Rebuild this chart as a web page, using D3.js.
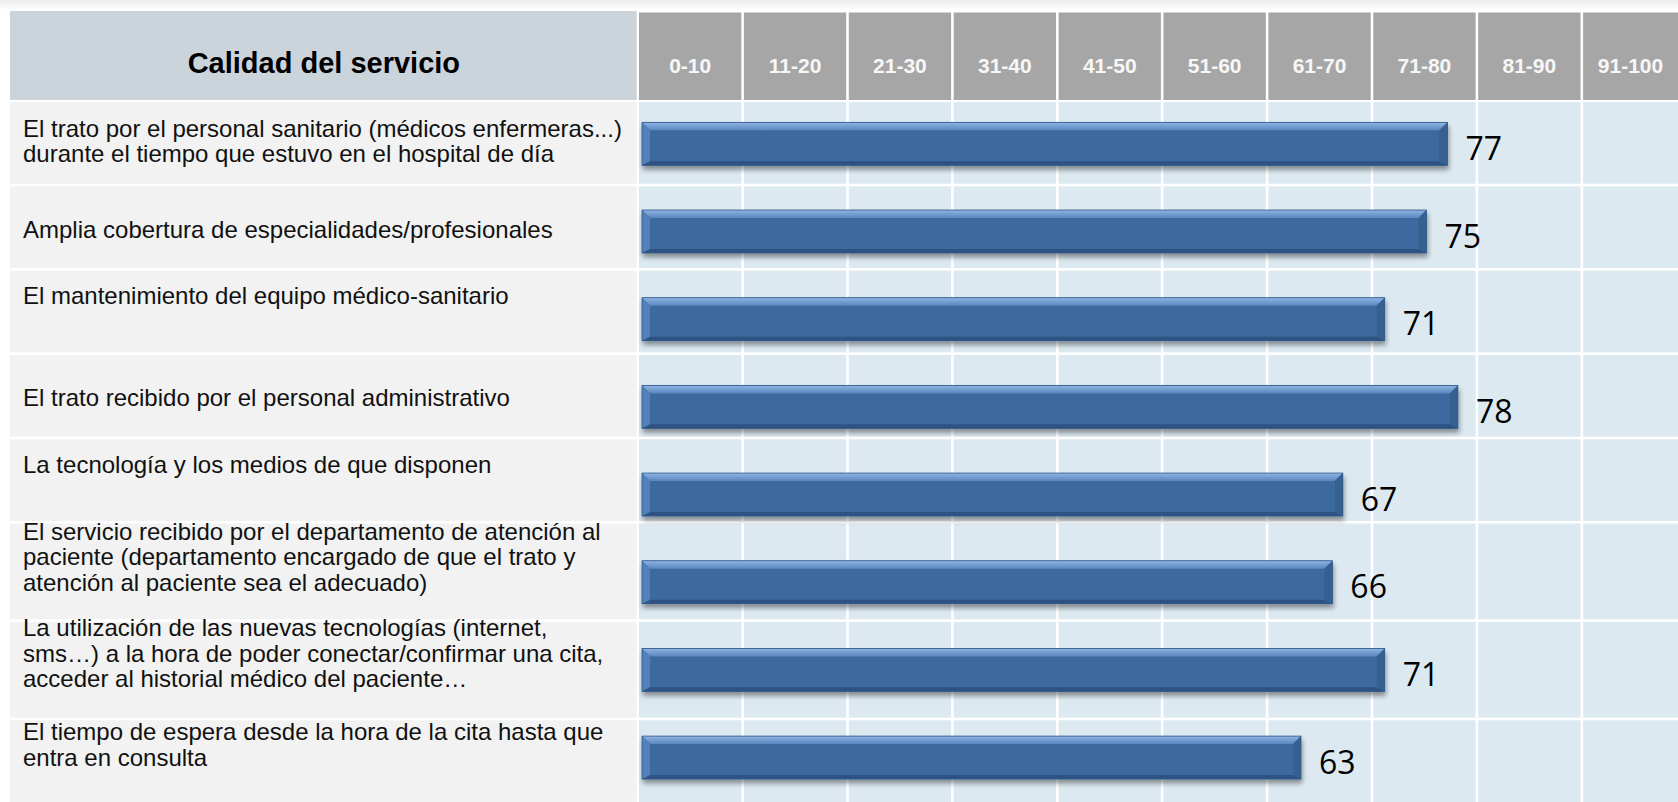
<!DOCTYPE html>
<html>
<head>
<meta charset="utf-8">
<script src="https://cdn.jsdelivr.net/npm/d3@7"></script>
<style>
  html, body { margin: 0; padding: 0; background: #ffffff; }
  svg { display: block; }
</style>
</head>
<body>
<svg id="chart" width="1678" height="802"></svg>
<script>
// ---------------- DATA ----------------
const headerTitle = "Calidad del servicio";
const rangeLabels = ["0-10", "11-20", "21-30", "31-40", "41-50", "51-60", "61-70", "71-80", "81-90", "91-100"];
const categories = [
  "El trato por el personal sanitario (médicos enfermeras...)\ndurante el tiempo que estuvo en el hospital de día",
  "Amplia cobertura de especialidades/profesionales",
  "El mantenimiento del equipo médico-sanitario",
  "El trato recibido por el personal administrativo",
  "La tecnología y los medios de que disponen",
  "El servicio recibido por el departamento de atención al\npaciente (departamento encargado de que el trato y\natención al paciente sea el adecuado)",
  "La utilización de las nuevas tecnologías (internet,\nsms…) a la hora de poder conectar/confirmar una cita,\nacceder al historial médico del paciente…",
  "El tiempo de espera desde la hora de la cita hasta que\nentra en consulta"
];
const values = [77, 75, 71, 78, 67, 66, 71, 63];

// ---------------- LAYOUT ----------------
const W = 1678, H = 802;
const labelShift = [0.5, 5, -13.5, 4, -13.8, -12.5, -14.5, -14.5]; // vertical nudge of label blocks
const svg = d3.select("#chart");
const defs = svg.append("defs");

const topGrad = defs.append("linearGradient").attr("id", "topband").attr("x1", 0).attr("y1", 0).attr("x2", 0).attr("y2", 1);
topGrad.append("stop").attr("offset", "0%").attr("stop-color", "#ebebeb");
topGrad.append("stop").attr("offset", "100%").attr("stop-color", "#ffffff");

const bevGrad = defs.append("linearGradient").attr("id", "bevtop").attr("x1", 0).attr("y1", 0).attr("x2", 0).attr("y2", 1);
bevGrad.append("stop").attr("offset", "0%").attr("stop-color", "#8fb4e3");
bevGrad.append("stop").attr("offset", "100%").attr("stop-color", "#5a87bf");

const flt = defs.append("filter").attr("id", "shadow").attr("x", "-5%").attr("y", "-30%").attr("width", "110%").attr("height", "170%");
flt.append("feGaussianBlur").attr("in", "SourceAlpha").attr("stdDeviation", 2.5).attr("result", "b");
flt.append("feOffset").attr("in", "b").attr("dx", 1).attr("dy", 4).attr("result", "o");
flt.append("feComponentTransfer").attr("in", "o").attr("result", "s")
  .append("feFuncA").attr("type", "linear").attr("slope", 0.4);
const fm = flt.append("feMerge");
fm.append("feMergeNode").attr("in", "s");
fm.append("feMergeNode").attr("in", "SourceGraphic");

svg.append("rect").attr("x", 0).attr("y", 0).attr("width", W).attr("height", 10).attr("fill", "url(#topband)");

// table geometry
const leftX = 10, leftRight = 637.7;
const tableTop = 102, tableBottom = 804.6, gap = 2.6;
const colScale = d3.scaleBand().domain(rangeLabels).range([leftRight, 1686.7]);

const lines = categories.map(c => c.split("\n"));
const weights = lines.map(l => l.length >= 3 ? 7 / 6 : 1);
const unit = (tableBottom - tableTop) / d3.sum(weights);
const rowStart = [];
weights.reduce((acc, w, i) => { rowStart[i] = acc; return acc + w * unit; }, tableTop);
const rows = categories.map((c, i) => ({ i, y0: rowStart[i], h: weights[i] * unit - gap, lines: lines[i] }));

// header
svg.append("rect").attr("x", leftX).attr("y", 11).attr("width", leftRight - leftX - 1).attr("height", 89).attr("fill", "#cbd3db");
svg.append("text").attr("x", (leftX + leftRight) / 2).attr("y", 72.7).attr("text-anchor", "middle")
  .attr("font-family", "'Liberation Sans', Arial, sans-serif").attr("font-weight", "bold").attr("font-size", 29)
  .attr("fill", "#000").text(headerTitle);

svg.selectAll("rect.colhead").data(rangeLabels).join("rect").attr("class", "colhead")
  .attr("x", d => colScale(d) + gap / 2).attr("y", 12.5)
  .attr("width", colScale.bandwidth() - gap).attr("height", 87.5).attr("fill", "#a6a6a6");
svg.selectAll("text.colhead").data(rangeLabels).join("text").attr("class", "colhead")
  .attr("x", d => { const a = colScale(d) + gap / 2, b = Math.min(colScale(d) + colScale.bandwidth() - gap / 2, W); return (a + b) / 2; })
  .attr("y", 72.5).attr("text-anchor", "middle")
  .attr("font-family", "'Liberation Sans', Arial, sans-serif").attr("font-weight", "bold").attr("font-size", 21)
  .attr("fill", "#f7f7f7").text(d => d);

// row cells
svg.selectAll("rect.lcell").data(rows).join("rect").attr("class", "lcell")
  .attr("x", leftX).attr("y", d => d.y0).attr("width", leftRight - leftX - 1).attr("height", d => d.h).attr("fill", "#f2f2f2");

const cells = [];
rows.forEach(r => rangeLabels.forEach(c => cells.push({ r, c })));
svg.selectAll("rect.gcell").data(cells).join("rect").attr("class", "gcell")
  .attr("x", d => colScale(d.c) + gap / 2).attr("y", d => d.r.y0)
  .attr("width", colScale.bandwidth() - gap).attr("height", d => d.r.h).attr("fill", "#dce9f1");

// row labels
const LH = 25.5;
rows.forEach(r => {
  const c = r.y0 + r.h / 2 + labelShift[r.i];
  const first = c - (r.lines.length - 1) * LH / 2 + 6.3;
  const t = svg.append("text").attr("font-family", "'Liberation Sans', Arial, sans-serif").attr("font-size", 24).attr("fill", "#111");
  r.lines.forEach((ln, k) => t.append("tspan").attr("x", 23).attr("y", first + k * LH).text(ln));
});

// bars
const x = d3.scaleLinear().domain([0, 100]).range([642, 1688]);
const y = d3.scaleBand().domain(d3.range(categories.length)).range([100, 801.4]).paddingInner(0.51).paddingOuter(0.255);
const bars = svg.append("g");
values.forEach((v, i) => {
  const x0 = x(0), x1 = x(v), y0 = y(i), y1 = y(i) + y.bandwidth();
  const s = 8, t = 8, bb = 4;
  const g = bars.append("g").attr("filter", "url(#shadow)");
  g.append("rect").attr("x", x0).attr("y", y0).attr("width", x1 - x0).attr("height", y1 - y0).attr("fill", "#3e6a9e");
  const poly = pts => pts.map(p => p.join(",")).join(" ");
  g.append("polygon").attr("points", poly([[x0, y0], [x1, y0], [x1 - s, y0 + t], [x0 + s, y0 + t]])).attr("fill", "url(#bevtop)");
  g.append("polygon").attr("points", poly([[x0, y1], [x1, y1], [x1 - s, y1 - bb], [x0 + s, y1 - bb]])).attr("fill", "#2d5283");
  g.append("polygon").attr("points", poly([[x0, y0], [x0 + s, y0 + t], [x0 + s, y1 - bb], [x0, y1]])).attr("fill", "#5281b9");
  g.append("polygon").attr("points", poly([[x1, y0], [x1, y1], [x1 - s, y1 - bb], [x1 - s, y0 + t]])).attr("fill", "#36618f");
  g.append("rect").attr("x", x0).attr("y", y0).attr("width", x1 - x0).attr("height", y1 - y0)
    .attr("fill", "none").attr("stroke", "#30578a").attr("stroke-width", 0.8);
});

svg.selectAll("text.val").data(values).join("text").attr("class", "val")
  .attr("x", d => x(d) + 18).attr("y", (d, i) => y(i) + y.bandwidth() / 2 + 16)
  .attr("font-family", "'Open Sans', 'Liberation Sans', sans-serif").attr("font-size", 32).attr("fill", "#000")
  .text(d => d);
</script>
</body>
</html>
